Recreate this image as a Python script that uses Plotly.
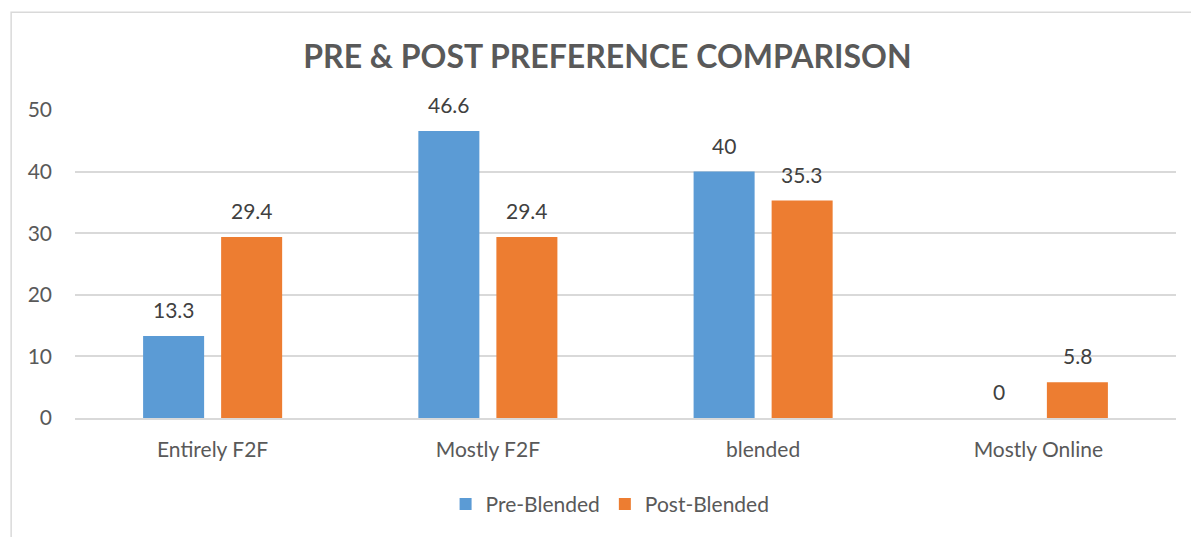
import plotly.graph_objects as go

categories = ["Entirely F2F", "Mostly F2F", "blended", "Mostly Online"]
pre_blended = [13.3, 46.6, 40, 0]
post_blended = [29.4, 29.4, 35.3, 5.8]
y_ticks = [0, 10, 20, 30, 40, 50]

FONT = "Lato, 'Open Sans', sans-serif"
LABEL_COLOR = "#404040"

fig = go.Figure()
fig.add_trace(go.Bar(x=categories, y=pre_blended, name="Pre-Blended",
                     marker=dict(color="#5B9BD5", line=dict(width=0))))
fig.add_trace(go.Bar(x=categories, y=post_blended, name="Post-Blended",
                     marker=dict(color="#ED7D31", line=dict(width=0))))

# value labels sit a bit higher above the bars than plotly's "outside" text
annotations = []
for series, shift in ((pre_blended, -39), (post_blended, 39)):
    for cat, val in zip(categories, series):
        annotations.append(dict(x=cat, y=val, xref="x", yref="y", text=str(val),
                                showarrow=False, xshift=shift, yshift=12,
                                yanchor="bottom",
                                font=dict(size=21, color=LABEL_COLOR)))

fig.update_layout(
    width=1191, height=537,
    margin=dict(l=75, r=15, t=110, b=115),
    paper_bgcolor="white", plot_bgcolor="white",
    font=dict(family=FONT, color="#595959", size=20),
    title=dict(text="<b>PRE & POST PREFERENCE COMPARISON</b>",
               x=0.51, xanchor="center", y=0.895, yanchor="middle",
               font=dict(size=32, color="#595959", family=FONT)),
    barmode="group", bargap=0.433, bargroupgap=0.218,
    legend=dict(orientation="h", x=0.486, xanchor="center", y=-0.28, yanchor="middle",
                font=dict(size=21, color="#595959"), itemwidth=30, traceorder="normal"),
    xaxis=dict(showgrid=False, showline=True, linecolor="#d9d9d9", linewidth=1.5,
               ticks="", tickfont=dict(size=21, color="#595959"), ticklabelstandoff=12),
    yaxis=dict(range=[0, 50], tickvals=y_ticks, showgrid=True, gridcolor="#d9d9d9",
               gridwidth=1.5, zeroline=False, showline=False, ticks="",
               tickfont=dict(size=21, color="#595959"), ticklabelstandoff=22),
    annotations=annotations,
    shapes=[dict(type="rect", xref="paper", yref="paper", x0=-0.058, x1=1.2,
                 y0=-0.6, y1=1.317, line=dict(color="#d9d9d9", width=1.5),
                 fillcolor="rgba(0,0,0,0)", layer="below")],
)

fig.write_html("out.html", config={"displayModeBar": False},
               post_script="document.body.style.margin='0';")
